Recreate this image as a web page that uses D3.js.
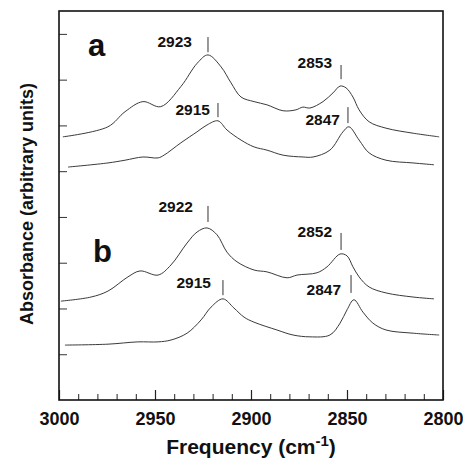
<!DOCTYPE html>
<meta charset="utf-8" />
<title>IR spectra a / b</title>
<script src="https://d3js.org/d3.v7.min.js"></script>
<style>
  body { margin: 0; background: #fff; }
  svg { display: block; font-family: "Liberation Sans", Arial, sans-serif; }
</style>
<div id="chart"></div>
<script>
  // spectra, frequency (cm-1) and absorbance (arbitrary units)
  var freqA1 = [2998, 2974.5, 2965.6, 2956.3, 2947, 2936.5, 2928, 2922.4, 2915.6, 2910.4, 2905.2, 2898.4, 2891.7, 2883.3, 2876.6, 2873, 2869.3, 2862.5, 2857.3, 2853.6, 2850.5, 2846.9, 2843.7, 2838.5, 2829.7, 2815.6, 2802];
  var absA1 = [5.75, 5.97, 6.30, 6.52, 6.41, 6.85, 7.36, 7.54, 7.28, 6.93, 6.62, 6.52, 6.45, 6.32, 6.34, 6.40, 6.38, 6.52, 6.71, 6.86, 6.82, 6.62, 6.34, 6.08, 5.94, 5.83, 5.75];

  var freqA2 = [2995.3, 2974.5, 2965.6, 2956.3, 2948.4, 2945.3, 2936.5, 2928.1, 2922.9, 2917.2, 2912.5, 2905.2, 2898.4, 2891.7, 2883.3, 2872.9, 2867.7, 2858.9, 2852.1, 2849, 2843.7, 2838.5, 2829.7, 2815.6, 2804.7];
  var absA2 = [5.09, 5.18, 5.24, 5.31, 5.29, 5.35, 5.62, 5.86, 6.01, 6.10, 5.90, 5.68, 5.53, 5.46, 5.35, 5.31, 5.31, 5.46, 5.86, 5.97, 5.68, 5.40, 5.24, 5.18, 5.14];

  var freqB1 = [2999, 2983.3, 2974.5, 2964.1, 2957.8, 2948.4, 2941.7, 2933.3, 2928.1, 2922.9, 2917.7, 2912.5, 2907.3, 2898.4, 2891.7, 2881.2, 2876, 2865.6, 2860.4, 2853.6, 2850, 2846.9, 2843.7, 2838.5, 2829.7, 2815.6, 2804.7];
  var absB1 = [2.16, 2.25, 2.38, 2.69, 2.82, 2.73, 2.95, 3.43, 3.67, 3.76, 3.61, 3.23, 3.02, 2.84, 2.80, 2.67, 2.73, 2.78, 2.91, 3.19, 3.15, 2.91, 2.69, 2.47, 2.34, 2.25, 2.21];

  var freqB2 = [2996.9, 2974.5, 2958.9, 2948.4, 2941.7, 2933.3, 2926, 2920.8, 2914.6, 2908.9, 2903.6, 2898.4, 2886.5, 2878.1, 2869.3, 2858.9, 2853.6, 2850, 2846.4, 2841.7, 2836.5, 2829.7, 2815.6, 2802];
  var absB2 = [1.20, 1.22, 1.27, 1.27, 1.31, 1.46, 1.75, 2.03, 2.21, 2.01, 1.81, 1.70, 1.53, 1.42, 1.38, 1.42, 1.68, 1.97, 2.19, 1.92, 1.68, 1.53, 1.46, 1.42];

  // peak marks
  var peakFreq = [2922.4, 2853.1, 2917.2, 2849.5, 2922.4, 2853.1, 2914.6, 2847.9];
  var peakText = ["2923", "2853", "2915", "2847", "2922", "2852", "2915", "2847"];
  var peakTop = [7.93, 7.32, 6.49, 6.40, 4.24, 3.65, 2.62, 2.73];
  var peakBottom = [7.60, 7.01, 6.18, 6.05, 3.89, 3.28, 2.29, 2.34];

  var xMajor = [3000, 2950, 2900, 2850, 2800];
  var xMinor = d3.range(2990, 2800, -10).filter(function (d) { return d % 50 !== 0; });
  var yTicks = [1, 2, 3, 4, 5, 6, 7, 8];

  // label offsets (px) relative to the top of each mark
  var labelDx = [-16, -9, -8, -8, -15, -9, -12, -10];
  var labelDy = [10, 3, 12, 18, 6, 4, 8, 20];

  var width = 463, height = 458;
  var mLeft = 59, mRight = 443, mTop = 11, mBottom = 400;

  var svg = d3.select("#chart").append("svg")
    .attr("width", width)
    .attr("height", height);

  var x = d3.scaleLinear().domain([3000, 2800]).range([mLeft, mRight]);
  var y = d3.scaleLinear().domain([0, 8.5]).range([mBottom, mTop]);

  // ticks (inward)
  var gx = svg.append("g")
    .attr("transform", "translate(0," + mBottom + ")")
    .call(d3.axisBottom(x).tickValues(xMajor).tickSize(-10).tickPadding(12).tickFormat(d3.format("d")));
  gx.select(".domain").remove();
  gx.selectAll("text")
    .attr("font-size", 18)
    .attr("font-weight", "bold")
    .attr("font-family", "Liberation Sans, Arial, sans-serif")
    .attr("fill", "#111");
  gx.selectAll("line").attr("stroke", "#222").attr("stroke-width", 1.2);

  var gxm = svg.append("g")
    .attr("transform", "translate(0," + mBottom + ")")
    .call(d3.axisBottom(x).tickValues(xMinor).tickSize(-6).tickFormat(""));
  gxm.select(".domain").remove();
  gxm.selectAll("line").attr("stroke", "#222").attr("stroke-width", 1);

  var gy = svg.append("g")
    .attr("transform", "translate(" + mLeft + ",0)")
    .call(d3.axisLeft(y).tickValues(yTicks).tickSize(-8).tickFormat(""));
  gy.select(".domain").remove();
  gy.selectAll("line").attr("stroke", "#333").attr("stroke-width", 1);

  // frame
  svg.append("rect")
    .attr("x", mLeft)
    .attr("y", mTop)
    .attr("width", mRight - mLeft)
    .attr("height", mBottom - mTop)
    .attr("fill", "none")
    .attr("stroke", "#111")
    .attr("stroke-width", 1.6);

  // spectra
  var line = d3.line()
    .x(function (d) { return x(d[0]); })
    .y(function (d) { return y(d[1]); })
    .curve(d3.curveCatmullRom.alpha(0.5));

  var spectra = [
    d3.zip(freqA1, absA1),
    d3.zip(freqA2, absA2),
    d3.zip(freqB1, absB1),
    d3.zip(freqB2, absB2)
  ];

  svg.selectAll(".spec")
    .data(spectra)
    .join("path")
    .attr("class", "spec")
    .attr("d", line)
    .attr("fill", "none")
    .attr("stroke", "#3a3a3a")
    .attr("stroke-width", 1);

  // peak marks and labels
  peakFreq.forEach(function (f, i) {
    svg.append("line")
      .attr("x1", x(f)).attr("x2", x(f))
      .attr("y1", y(peakTop[i])).attr("y2", y(peakBottom[i]))
      .attr("stroke", "#333")
      .attr("stroke-width", 1);
    svg.append("text")
      .attr("x", x(f) + labelDx[i])
      .attr("y", y(peakTop[i]) + labelDy[i])
      .attr("text-anchor", "end")
      .attr("font-size", 15.5)
      .attr("font-weight", "bold")
      .attr("fill", "#111")
      .text(peakText[i]);
  });

  // panel letters
  svg.append("text")
    .attr("x", x(2984.9)).attr("y", y(7.52))
    .attr("font-size", 31).attr("font-weight", "bold").attr("fill", "#111")
    .text("a");
  svg.append("text")
    .attr("x", x(2982.3)).attr("y", y(3.02))
    .attr("font-size", 31).attr("font-weight", "bold").attr("fill", "#111")
    .text("b");

  // axis titles
  var xt = svg.append("text")
    .attr("x", (mLeft + mRight) / 2)
    .attr("y", 454)
    .attr("text-anchor", "middle")
    .attr("font-size", 21)
    .attr("font-weight", "bold")
    .attr("fill", "#111");
  xt.append("tspan").text("Frequency (cm");
  xt.append("tspan").attr("dy", -8).attr("font-size", 15).text("-1");
  xt.append("tspan").attr("dy", 8).text(")");

  svg.append("text")
    .attr("transform", "translate(33,204) rotate(-90)")
    .attr("text-anchor", "middle")
    .attr("font-size", 18)
    .attr("font-weight", "bold")
    .attr("fill", "#111")
    .text("Absorbance (arbitrary units)");
</script>
